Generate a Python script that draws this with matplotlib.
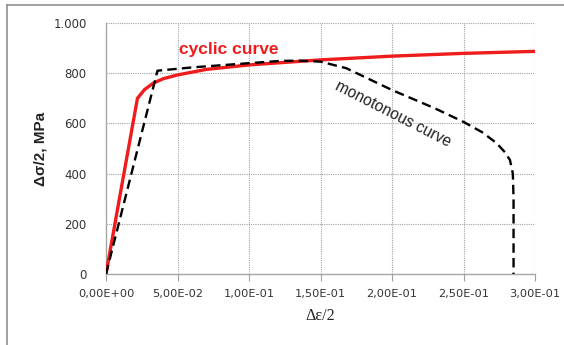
import matplotlib.pyplot as plt
from matplotlib.lines import Line2D
from matplotlib.ticker import FixedLocator

# cyclic stress-strain curve (red)
cyc_x = [0.0, 0.010, 0.022, 0.027, 0.033, 0.040, 0.050, 0.070, 0.100, 0.150, 0.200, 0.250, 0.300]
cyc_y = [0, 320, 700, 735, 760, 778, 793, 815, 833, 853, 868, 879, 887]

# monotonous curve (black dashed)
mono_x = [0.0, 0.036, 0.060, 0.100, 0.122, 0.135, 0.150, 0.168, 0.200, 0.230, 0.250, 0.263, 0.273,
          0.279, 0.2825, 0.2845, 0.285, 0.285]
mono_y = [0, 810, 823, 840, 849, 850, 846, 820, 733, 660, 606, 565, 522,
          485, 454, 400, 300, 0]

xticks = [0.0, 0.05, 0.10, 0.15, 0.20, 0.25, 0.30]
xtick_labels = ["0,00E+00", "5,00E-02", "1,00E-01", "1,50E-01", "2,00E-01", "2,50E-01", "3,00E-01"]
yticks = [0, 200, 400, 600, 800, 1000]
ytick_labels = ["0", "200", "400", "600", "800", "1.000"]

fig = plt.figure(figsize=(5.64, 3.45), dpi=100)
ax = fig.add_axes([106/564, 1 - 274/345, (535-106)/564, (274-23)/345])

ax.plot(cyc_x, cyc_y, color="#ee1c1c", lw=2.4, solid_capstyle="round", zorder=3)
ax.plot(mono_x, mono_y, color="black", lw=1.7, dashes=(4, 2.2), zorder=4)

ax.set_xlim(0, 0.3)
ax.set_ylim(0, 1000)
ax.xaxis.set_major_locator(FixedLocator(xticks))
ax.yaxis.set_major_locator(FixedLocator(yticks))
ax.set_xticklabels(xtick_labels)
ax.set_yticklabels(ytick_labels)
ax.tick_params(axis="x", direction="out", length=5, color="#a0a0a0", labelsize=8.2,
               labelcolor="#333333", pad=6)
ax.tick_params(axis="y", length=0, labelsize=8.5, labelcolor="#333333", pad=14)
for lab in ax.get_xticklabels() + ax.get_yticklabels():
    lab.set_family("DejaVu Sans")

for x in xticks[1:]:
    ax.axvline(x, color="#a3a3a3", lw=0.8, ls=(0, (1, 1)), zorder=1)
for y in yticks[1:]:
    ax.axhline(y, color="#a3a3a3", lw=0.8, ls=(0, (1, 1)), zorder=1)
for s in ["top", "right"]:
    ax.spines[s].set_visible(False)
for s in ["left", "bottom"]:
    ax.spines[s].set_color("#a6a6a6")
    ax.spines[s].set_linewidth(1.0)

ax.set_ylabel("Δσ/2, MPa", fontsize=11, fontweight="bold", family="Liberation Sans",
              color="#222222", labelpad=4)
ax.set_xlabel("Δε/2", fontsize=11.5, family="Liberation Serif", color="#222222", labelpad=6)

ax.text(0.051, 893, "cyclic curve", color="#ee1c1c", fontsize=12.5, fontweight="bold",
        family="Liberation Sans", ha="left", va="center")
ax.text(0.2005, 636, "monotonous curve", color="#222222", fontsize=11.2,
        family="Liberation Sans", rotation=-27, rotation_mode="anchor", ha="center", va="center")

# outer frame (left and top edges of the chart box)
fig.add_artist(Line2D([7/564, 7/564], [0, 1 - 5/345], transform=fig.transFigure,
                      color="#909090", lw=1.2))
fig.add_artist(Line2D([7/564, 1], [1 - 5/345, 1 - 5/345], transform=fig.transFigure,
                      color="#909090", lw=1.2))

fig.savefig("out.png", dpi=100)
